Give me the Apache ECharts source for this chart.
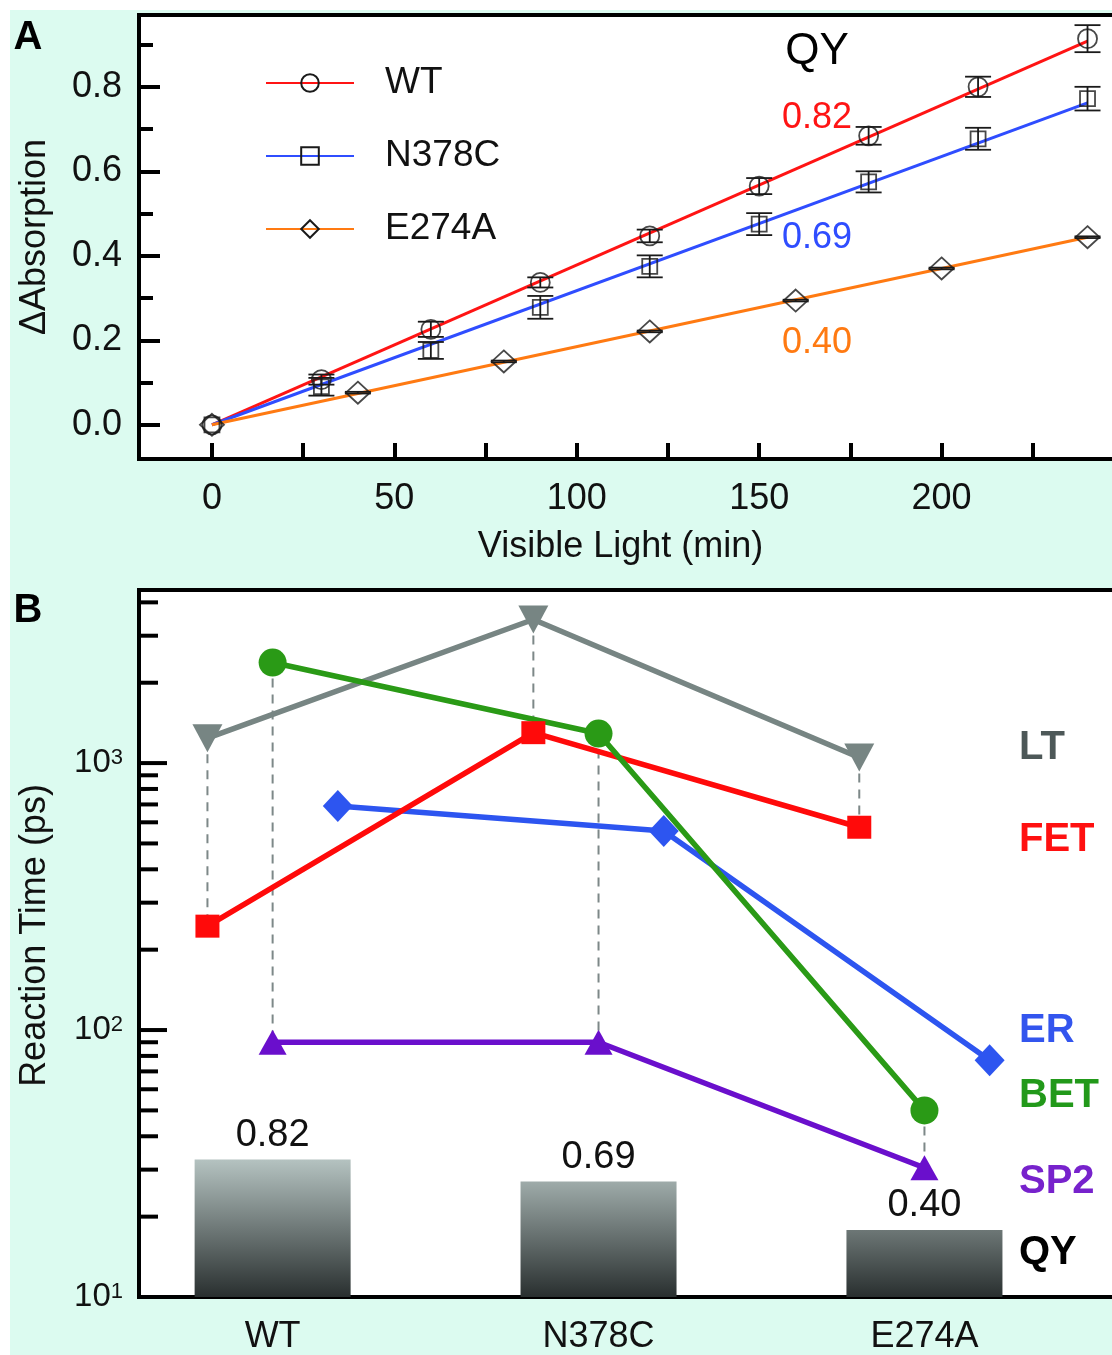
<!DOCTYPE html>
<html>
<head>
<meta charset="utf-8">
<script src="https://cdn.jsdelivr.net/npm/echarts@6/dist/echarts.min.js"></script>
<style>
html, body { margin: 0; padding: 0; background: #fff; overflow: hidden; }
#wrap { position: relative; width: 1112px; height: 1355px; overflow: hidden; }
#mint { position: absolute; left: 10px; top: 10px; right: 0; bottom: 0; background: #dcfbf0; }
/* canvas is a bit wider than the page: the right frame edge of the figure is cut off */
#chart { position: absolute; left: 0; top: 0; width: 1140px; height: 1355px; }
</style>
</head>
<body>
<div id="wrap">
  <div id="mint"></div>
  <div id="chart"></div>
</div>
<script>
// ---- panel A: absorption change vs. visible light time ----
var wtX = [0, 30, 60, 90, 120, 150, 180, 210, 240];
var wtY = [0, 0.107, 0.226, 0.337, 0.447, 0.565, 0.684, 0.800, 0.914];
var wtErr = [0, 0.012, 0.018, 0.012, 0.015, 0.019, 0.021, 0.024, 0.032];
var n378cX = [0, 30, 60, 90, 120, 150, 180, 210, 240];
var n378cY = [0, 0.090, 0.176, 0.278, 0.375, 0.475, 0.575, 0.677, 0.772];
var n378cErr = [0, 0.021, 0.020, 0.027, 0.026, 0.026, 0.025, 0.026, 0.028];
var e274aX = [0, 40, 80, 120, 160, 200, 240];
var e274aY = [0, 0.076, 0.150, 0.221, 0.294, 0.370, 0.444];
var e274aErr = [0, 0.002, 0.002, 0.002, 0.002, 0.002, 0.002];
// linear fits through origin (value reached at 240 min)
var fitX = [0, 240];
var fitEnd = [0.908, 0.762, 0.444];
var qyText = ['0.82', '0.69', '0.40'];
var xTicksA = [0, 25, 50, 75, 100, 125, 150, 175, 200, 225];
var xLabelsA = [0, 50, 100, 150, 200];
var yLabelsA = [0, 0.2, 0.4, 0.6, 0.8];
var yMinorA = [0.1, 0.3, 0.5, 0.7, 0.9];

// ---- panel B: reaction times (ps) and quantum yield ----
var mutants = ['WT', 'N378C', 'E274A'];
var ltTime = [1240, 3450, 1050];
var fetTime = [245, 1300, 575];
var erTime = [690, 557, 77];
var betTime = [2380, 1290, 50];
var sp2Time = [90, 90, 30.5];
var qyVals = [0.82, 0.69, 0.40];
var yMajorB = [10, 100, 1000];
var yMinorB = [20, 30, 40, 50, 60, 70, 80, 90, 200, 300, 400, 500, 600, 700, 800, 900, 2000, 3000, 4000];

var FONT = '"Liberation Sans", Arial, Helvetica, sans-serif';
var BX_MIN = 0.59;
var OFF = 0.2;

function pts(xs, ys) {
  return xs.map(function (x, i) { return [x, ys[i]]; });
}

function errSeries(xs, ys, es) {
  var d = [];
  xs.forEach(function (x, i) {
    if (x > 0) d.push([x, ys[i] - es[i], ys[i] + es[i]]);
  });
  return {
    type: 'custom', xAxisIndex: 0, yAxisIndex: 0, z: 4,
    data: d,
    renderItem: function (params, api) {
      var lo = api.coord([api.value(0), api.value(1)]);
      var hi = api.coord([api.value(0), api.value(2)]);
      var w = 13;
      var st = { stroke: '#1a1a1a', lineWidth: 1.8 };
      return {
        type: 'group', children: [
          { type: 'line', shape: { x1: lo[0], y1: lo[1], x2: hi[0], y2: hi[1] }, style: st },
          { type: 'line', shape: { x1: lo[0] - w, y1: lo[1], x2: lo[0] + w, y2: lo[1] }, style: st },
          { type: 'line', shape: { x1: hi[0] - w, y1: hi[1], x2: hi[0] + w, y2: hi[1] }, style: st }
        ]
      };
    }
  };
}

var hollow = { color: 'rgba(0,0,0,0)', borderColor: '#1a1a1a', borderWidth: 1.8 };
var colA = ['#ff1414', '#2f4dff', '#ff7a12'];
var namesA = ['WT', 'N378C', 'E274A'];
var symA = ['circle', 'rect', 'diamond'];
var symSizeA = [19, 15, [24, 22]];

function fitSeries(i) {
  return {
    name: namesA[i], type: 'line', xAxisIndex: 0, yAxisIndex: 0, z: 3,
    data: [[fitX[0], 0], [fitX[1], fitEnd[i]]],
    symbol: symA[i], symbolSize: symSizeA[i], showSymbol: false,
    itemStyle: hollow,
    lineStyle: { color: colA[i], width: 3 },
    color: colA[i]
  };
}

function scatterSeries(i, xs, ys) {
  return {
    name: namesA[i] + ' data', type: 'scatter', xAxisIndex: 0, yAxisIndex: 0, z: 5,
    data: pts(xs, ys), symbol: symA[i], symbolSize: symSizeA[i],
    itemStyle: hollow
  };
}

// panel B helpers
function bLine(name, vals, off, color, symbol, size, rot) {
  return {
    name: name, type: 'line', xAxisIndex: 1, yAxisIndex: 2, z: 5,
    data: vals.map(function (v, i) { return [i + 1 + off, v]; }),
    symbol: symbol, symbolSize: size, symbolRotate: rot || 0,
    itemStyle: { color: color },
    lineStyle: { color: color, width: 5.5 }
  };
}

var linkData = [];
mutants.forEach(function (m, i) {
  linkData.push([i + 1 - OFF, ltTime[i], fetTime[i]]);
  linkData.push([i + 1, betTime[i], sp2Time[i]]);
});

function tickSeries(vals, len) {
  return {
    type: 'custom', xAxisIndex: 1, yAxisIndex: 2, z: 6, silent: true,
    data: vals.map(function (v) { return [BX_MIN, v]; }),
    renderItem: function (params, api) {
      var p = api.coord([api.value(0), api.value(1)]);
      return {
        type: 'line',
        shape: { x1: p[0], y1: p[1], x2: p[0] + len, y2: p[1] },
        style: { stroke: '#000', lineWidth: 4 }
      };
    }
  };
}

var barGrad = new echarts.graphic.LinearGradient(0, 1160, 0, 1300, [
  { offset: 0, color: '#b4c2c0' },
  { offset: 1, color: '#262c2c' }
], true);

var rightLabels = [
  { t: 'LT', c: '#4d5858', y: 748 },
  { t: 'FET', c: '#ff1010', y: 840 },
  { t: 'ER', c: '#3355ee', y: 1031 },
  { t: 'BET', c: '#22991a', y: 1096 },
  { t: 'SP2', c: '#7722cc', y: 1182 },
  { t: 'QY', c: '#000', y: 1253 }
];

var graphics = [
  { type: 'text', x: 28, y: 38, z: 100, style: { text: 'A', fontSize: 40, fontWeight: 'bold', fontFamily: FONT, fill: '#000', align: 'center', verticalAlign: 'middle' } },
  { type: 'text', x: 28, y: 611, z: 100, style: { text: 'B', fontSize: 40, fontWeight: 'bold', fontFamily: FONT, fill: '#000', align: 'center', verticalAlign: 'middle' } },
  { type: 'text', x: 817, y: 52, z: 100, style: { text: 'QY', fontSize: 44, fontFamily: FONT, fill: '#000', align: 'center', verticalAlign: 'middle' } },
  { type: 'text', x: 817, y: 118, z: 100, style: { text: qyText[0], fontSize: 36, fontFamily: FONT, fill: colA[0], align: 'center', verticalAlign: 'middle' } },
  { type: 'text', x: 817, y: 238, z: 100, style: { text: qyText[1], fontSize: 36, fontFamily: FONT, fill: colA[1], align: 'center', verticalAlign: 'middle' } },
  { type: 'text', x: 817, y: 343, z: 100, style: { text: qyText[2], fontSize: 36, fontFamily: FONT, fill: colA[2], align: 'center', verticalAlign: 'middle' } }
];
rightLabels.forEach(function (r) {
  graphics.push({ type: 'text', x: 1019, y: r.y, z: 100, style: { text: r.t, fontSize: 40, fontWeight: 'bold', fontFamily: FONT, fill: r.c, align: 'left', verticalAlign: 'middle' } });
});

var axisLineStyle = { color: '#000', width: 4 };

var option = {
  animation: false,
  textStyle: { fontFamily: FONT },
  grid: [
    { left: 139, top: 15, right: 16, height: 444, show: true, backgroundColor: '#fff', borderColor: '#000', borderWidth: 4 },
    { left: 139, top: 590, right: 20, height: 710, show: true, backgroundColor: '#fff', borderColor: '#000', borderWidth: 4 }
  ],
  legend: {
    data: namesA, orient: 'vertical', left: 260, top: 58,
    itemWidth: 88, itemHeight: 22, itemGap: 33,
    textStyle: { fontSize: 37, color: '#111', fontFamily: FONT, lineHeight: 40, padding: [0, 0, 0, 26] }
  },
  xAxis: [
    {
      gridIndex: 0, type: 'value', min: -20, max: 250,
      name: 'Visible Light (min)', nameLocation: 'middle', nameGap: 70,
      nameTextStyle: { fontSize: 36, color: '#111', fontFamily: FONT, padding: [0, 22, 0, 0] },
      axisLine: { onZero: false, lineStyle: axisLineStyle },
      axisTick: { inside: true, length: 16, customValues: xTicksA, lineStyle: { color: '#000', width: 4 } },
      axisLabel: { customValues: xLabelsA, fontSize: 36, color: '#111', margin: 22 },
      splitLine: { show: false }
    },
    {
      gridIndex: 1, type: 'value', min: BX_MIN, max: 3.6,
      axisLine: { onZero: false, lineStyle: axisLineStyle },
      axisTick: { show: false },
      axisLabel: {
        customValues: [1, 2, 3], fontSize: 36, color: '#111', margin: 22,
        formatter: function (v) { return mutants[Math.round(v) - 1] || ''; }
      },
      splitLine: { show: false }
    }
  ],
  yAxis: [
    {
      gridIndex: 0, type: 'value', min: -0.081, max: 0.97,
      name: 'ΔAbsorption', nameLocation: 'middle', nameGap: 86,
      nameTextStyle: { fontSize: 36, color: '#111', fontFamily: FONT },
      axisLine: { show: true, onZero: false, lineStyle: axisLineStyle },
      axisTick: { inside: true, length: 21, customValues: yLabelsA, lineStyle: { color: '#000', width: 4 } },
      axisLabel: { customValues: yLabelsA, fontSize: 36, color: '#111', margin: 17, formatter: function (v) { return v.toFixed(1); } },
      splitLine: { show: false }
    },
    {
      gridIndex: 0, type: 'value', min: -0.081, max: 0.97, position: 'left',
      axisLine: { show: false, onZero: false },
      axisTick: { show: true, inside: true, length: 14, customValues: yMinorA, lineStyle: { color: '#000', width: 4 } },
      axisLabel: { show: false },
      splitLine: { show: false }
    },
    {
      gridIndex: 1, type: 'log', logBase: 10, min: 10, max: 4450,
      name: 'Reaction Time (ps)', nameLocation: 'middle', nameGap: 86,
      nameTextStyle: { fontSize: 36, color: '#111', fontFamily: FONT, padding: [0, 0, 0, 16] },
      axisLine: { show: true, onZero: false, lineStyle: axisLineStyle },
      axisTick: { show: false },
      axisLabel: {
        margin: 16,
        formatter: function (v) {
          var e = Math.round(Math.log10(v));
          if (Math.abs(Math.pow(10, e) - v) > 1e-6 * v) return '';
          return '{b|10}{s|' + e + '}';
        },
        rich: {
          b: { fontSize: 33, color: '#111', fontFamily: FONT, verticalAlign: 'top' },
          s: { fontSize: 22, color: '#111', fontFamily: FONT, verticalAlign: 'top' }
        }
      },
      splitLine: { show: false }
    },
    {
      // hidden linear scale for the QY bars
      gridIndex: 1, type: 'value', min: 0, max: 4.22, show: false
    }
  ],
  graphic: { elements: graphics },
  series: [
    fitSeries(0), fitSeries(1), fitSeries(2),
    errSeries(wtX, wtY, wtErr),
    errSeries(n378cX, n378cY, n378cErr),
    errSeries(e274aX, e274aY, e274aErr),
    scatterSeries(0, wtX, wtY),
    scatterSeries(1, n378cX, n378cY),
    scatterSeries(2, e274aX, e274aY),

    {
      name: 'QY', type: 'bar', xAxisIndex: 1, yAxisIndex: 3, z: 2,
      data: qyVals.map(function (v, i) { return [i + 1, v]; }),
      barWidth: 156,
      itemStyle: { color: barGrad },
      label: {
        show: true, position: 'top', distance: 5, fontSize: 38, color: '#111', fontFamily: FONT,
        formatter: function (p) { return p.value[1].toFixed(2); }
      }
    },
    {
      type: 'custom', xAxisIndex: 1, yAxisIndex: 2, z: 3, silent: true,
      data: linkData,
      renderItem: function (params, api) {
        var a = api.coord([api.value(0), api.value(1)]);
        var b = api.coord([api.value(0), api.value(2)]);
        return {
          type: 'line',
          shape: { x1: a[0], y1: a[1], x2: b[0], y2: b[1] },
          style: { stroke: '#7d8888', lineWidth: 2, lineDash: [9, 7] }
        };
      }
    },
    bLine('SP2', sp2Time, 0, '#6a0fcc', 'triangle', [28, 25]),
    bLine('LT', ltTime, -OFF, '#778583', 'triangle', [30, 28], 180),
    bLine('ER', erTime, OFF, '#2d55f0', 'diamond', [30, 32]),
    bLine('FET', fetTime, -OFF, '#ff0a0a', 'rect', [24, 23]),
    bLine('BET', betTime, 0, '#2a9a16', 'circle', 28),
    tickSeries(yMajorB, 28),
    tickSeries(yMinorB, 19)
  ]
};

var chart = echarts.init(document.getElementById('chart'));
chart.setOption(option);
</script>
</body>
</html>
